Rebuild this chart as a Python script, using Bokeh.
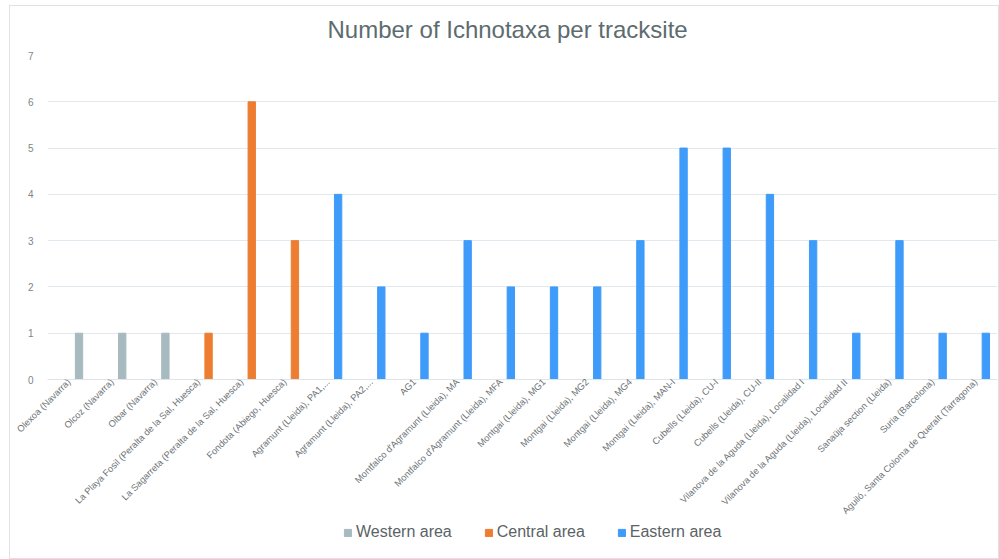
import math

from bokeh.embed import file_html
from bokeh.layouts import column
from bokeh.models import (ColumnDataSource, FactorRange, Legend, LegendItem,
                          Range1d, SingleIntervalTicker)
from bokeh.plotting import figure
from bokeh.resources import INLINE
from bokeh.transform import dodge

# Tracksites, grouped by area, and the number of ichnotaxa at each
western_sites = ["Olexoa (Navarra)", "Olcoz (Navarra)", "Oibar (Navarra)"]
western_counts = [1, 1, 1]

central_sites = [
    "La Playa Fosil (Peralta de la Sal, Huesca)",
    "La Sagarreta (Peralta de la Sal, Huesca)",
    "Fondota (Abiego, Huesca)",
]
central_counts = [1, 6, 3]

eastern_sites = [
    "Agramunt (Lleida), PA1,...",
    "Agramunt (Lleida), PA2,...",
    "AG1",
    "Montfalco d'Agramunt (Lleida), MA",
    "Montfalco d'Agramunt (Lleida), MFA",
    "Montgai (Lleida), MG1",
    "Montgai (Lleida), MG2",
    "Montgai (Lleida), MG4",
    "Montgai (Lleida), MAN-I",
    "Cubells (Lleida), CU-I",
    "Cubells (Lleida), CU-II",
    "Vilanova de la Aguda (Lleida), Localidad I",
    "Vilanova de la Aguda (Lleida), Localidad II",
    "Sanaüja section (Lleida)",
    "Suria (Barcelona)",
    "Aguiló, Santa Coloma de Queralt (Tarragona)",
]
eastern_counts = [4, 2, 1, 3, 2, 2, 2, 3, 5, 5, 4, 3, 1, 3, 1, 1]

area_names = ["Western area", "Central area", "Eastern area"]
area_colors = ["#A7BAC0", "#ED7D31", "#3E9BFA"]

all_sites = western_sites + central_sites + eastern_sites

FONT = "Liberation Sans"
FRAME = "#DCE3E8"

p = figure(
    width=999,
    height=522,
    x_range=FactorRange(factors=all_sites, range_padding=0),
    y_range=Range1d(0, 7),
    output_backend="svg",
    toolbar_location=None,
    min_border_left=47,
    min_border_right=2,
    min_border_top=53,
    min_border_bottom=142,
)
p.outline_line_color = None
p.background_fill_color = "white"
p.border_fill_alpha = 0

# Title
p.title.text = "Number of Ichnotaxa per tracksite"
p.title.align = "left"
p.title.offset = 280
p.title.text_font = FONT
p.title.text_font_size = "24px"
p.title.text_font_style = "normal"
p.title.text_color = "#5D6C6F"
p.title.standoff = 26

# Bars, one renderer per area
groups = [
    (western_sites, western_counts),
    (central_sites, central_counts),
    (eastern_sites, eastern_counts),
]
for (sites, counts), color in zip(groups, area_colors):
    src = ColumnDataSource(dict(site=sites, count=counts))
    p.vbar(
        x=dodge("site", 0.23, range=p.x_range),
        top="count",
        bottom=0,
        width=0.17,
        source=src,
        fill_color=color,
        line_color=color,
    )

# Axes
p.yaxis.ticker = SingleIntervalTicker(interval=1)
p.yaxis.axis_line_color = None
p.yaxis.major_tick_line_color = None
p.yaxis.minor_tick_line_color = None
p.yaxis.major_label_standoff = 8
p.yaxis.major_label_text_font = FONT
p.yaxis.major_label_text_font_size = "10px"
p.yaxis.major_label_text_color = "#7F8587"

p.xaxis.axis_line_color = "#DDE4EA"
p.xaxis.major_tick_line_color = None
p.xaxis.minor_tick_line_color = None
p.xaxis.major_tick_out = 0
p.xaxis.major_label_orientation = math.pi / 4
p.xaxis.major_label_standoff = 1
p.xaxis.major_label_text_font = FONT
p.xaxis.major_label_text_font_size = "9.3px"
p.xaxis.major_label_text_color = "#6D7376"

p.xgrid.grid_line_color = None
p.ygrid.grid_line_color = "#E1E8EE"
p.ygrid.grid_line_width = 1

# Legend strip underneath the chart; its renderers carry the area data but
# stay hidden, only their legend swatches are drawn
key = figure(
    width=999,
    height=37,
    x_range=(0, 1),
    y_range=(0, 1),
    output_backend="svg",
    toolbar_location=None,
    min_border=0,
)
key.axis.visible = False
key.grid.visible = False
key.outline_line_color = None
key.background_fill_alpha = 0
key.border_fill_alpha = 0

items = []
for (sites, counts), name, color in zip(groups, area_names, area_colors):
    r = key.vbar(x=list(range(len(counts))), top=counts, width=0.1,
                 fill_color=color, line_color=color, visible=False)
    items.append(LegendItem(label=name, renderers=[r]))

legend = Legend(
    items=items,
    orientation="horizontal",
    location=(296, 17),
    padding=0,
    margin=0,
    spacing=32,
    glyph_width=9,
    glyph_height=9,
    label_height=20,
    label_standoff=4,
    label_text_font=FONT,
    label_text_font_size="16px",
    label_text_color="#5B6366",
    border_line_color=None,
    background_fill_alpha=0,
    inactive_fill_alpha=0,
)
key.add_layout(legend, "center")

page = column(p, key, spacing=0)
# Thin light rule around the whole chart, painted behind both canvases
page.styles = {
    "background-color": "white",
    "background-image": ", ".join([f"linear-gradient({FRAME}, {FRAME})"] * 4),
    "background-repeat": "no-repeat",
    "background-position": "9px 5px, 9px 5px, 998px 5px, 9px 558px",
    "background-size": "990px 1px, 1px 554px, 1px 554px, 990px 1px",
}

open("out.html", "w").write(file_html(page, INLINE))
